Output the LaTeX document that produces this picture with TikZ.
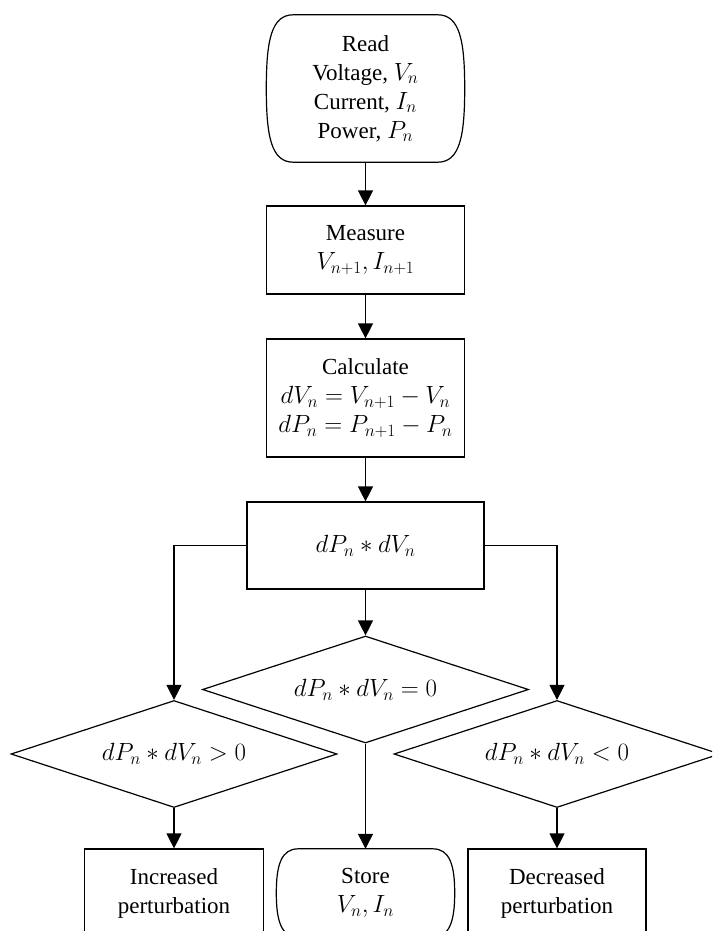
\documentclass[tikz,border=0pt]{standalone}
\usepackage{fontspec}
\setmainfont{Liberation Serif}
\usetikzlibrary{shapes.geometric,arrows.meta}
\begin{document}
\begin{tikzpicture}[x=1pt,y=-1pt,
  every node/.style={font=\fontsize{23}{29}\selectfont, align=center},
  box/.style={draw, line width=1.2pt, rectangle, inner sep=0pt},
  termtext/.style={rectangle, inner sep=0pt},
  dia/.style={draw, line width=1.2pt, diamond, shape aspect=3, inner sep=0pt, minimum width=326pt, minimum height=107pt},
  conn/.style={line width=1.2pt, -{Triangle[width=15pt,length=15pt]}},
  outline/.style={line width=1.2pt}
]
\useasboundingbox (0,0) rectangle (712,931);
\clip (0,0) rectangle (712,931);

\node[termtext, minimum width=198pt, minimum height=147pt] (read) at (365.5,88.5) {Read\\Voltage, $V_n$\\Current, $I_n$\\Power, $P_n$};
\node[box, minimum width=198pt, minimum height=88pt] (meas) at (365.5,250) {Measure\\$V_{n+1}, I_{n+1}$};
\node[box, minimum width=198pt, minimum height=118pt] (calc) at (365.5,398) {Calculate\\$dV_n = V_{n+1} - V_n$\\$dP_n = P_{n+1} - P_n$};
\node[box, minimum width=237pt, minimum height=87pt] (prod) at (365.5,545.5) {$dP_n * dV_n$};
\node[dia] (eq) at (365.5,689.5) {$dP_n * dV_n = 0$};
\node[dia] (gt) at (174,754) {$dP_n * dV_n > 0$};
\node[dia] (lt) at (557,754) {$dP_n * dV_n < 0$};
\node[box, minimum width=179pt, minimum height=88pt] (inc) at (174,893) {Increased\\perturbation};
\node[termtext, minimum width=178pt, minimum height=88pt] (store) at (365.5,893) {Store\\$V_n, I_n$};
\node[box, minimum width=178pt, minimum height=88pt] (dec) at (557,893) {Decreased\\perturbation};

% terminal outlines
\draw[outline] ([xshift=27pt]read.north west) -- ([xshift=-27pt]read.north east)
  .. controls +(22,0) and +(0,-48) .. (read.east)
  .. controls +(0,48) and +(22,0) .. ([xshift=-27pt]read.south east)
  -- ([xshift=27pt]read.south west)
  .. controls +(-22,0) and +(0,48) .. (read.west)
  .. controls +(0,-48) and +(-22,0) .. cycle;
\draw[outline] ([xshift=22pt]store.north west) -- ([xshift=-22pt]store.north east)
  .. controls +(17,0) and +(0,-28) .. (store.east)
  .. controls +(0,28) and +(17,0) .. ([xshift=-22pt]store.south east)
  -- ([xshift=22pt]store.south west)
  .. controls +(-17,0) and +(0,28) .. (store.west)
  .. controls +(0,-28) and +(-17,0) .. cycle;

% connectors
\draw[conn] (read) -- (meas);
\draw[conn] (meas) -- (calc);
\draw[conn] (calc) -- (prod);
\draw[conn] (prod) -- (eq);
\draw[conn] (prod.west) -| (gt.north);
\draw[conn] (prod.east) -| (lt.north);
\draw[conn] (gt.south) -- (inc.north);
\draw[conn] (eq.south) -- (store.north);
\draw[conn] (lt.south) -- (dec.north);
\end{tikzpicture}
\end{document}
